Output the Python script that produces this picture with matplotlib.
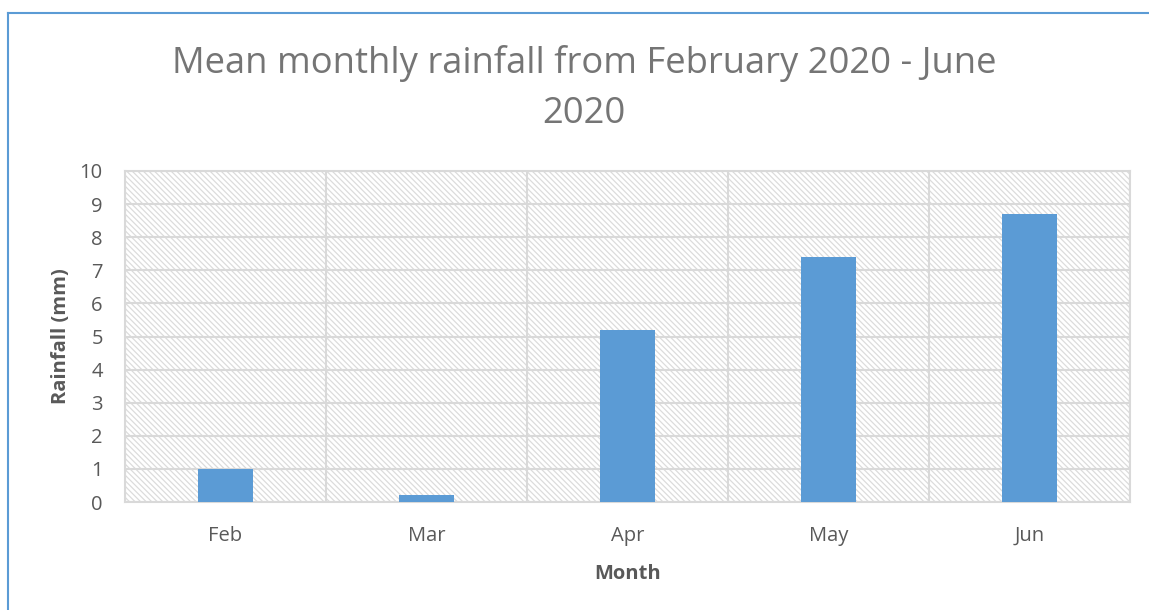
import matplotlib
matplotlib.use("Agg")
import matplotlib.pyplot as plt
from matplotlib.patches import Rectangle
from matplotlib.lines import Line2D

months = ["Feb", "Mar", "Apr", "May", "Jun"]
rainfall = [1.0, 0.2, 5.2, 7.4, 8.7]
yticks = list(range(0, 11))

plt.rcParams['font.family'] = ['Open Sans', 'DejaVu Sans']
plt.rcParams['hatch.linewidth'] = 0.9
plt.rcParams['hatch.color'] = '#dcdcdc'

fig = plt.figure(figsize=(11.49, 6.10), dpi=100)
ax = fig.add_axes([125/1149, 1-502/610, (1130-125)/1149, (502-171)/610])

# hatched background
bg = Rectangle((0, 0), 1, 1, transform=ax.transAxes, facecolor='white',
               edgecolor='#dcdcdc', hatch='\\\\\\\\\\\\', linewidth=0, zorder=0)
ax.add_patch(bg)

x = list(range(len(months)))
ax.bar(x, rainfall, width=0.27, color='#5b9bd5', zorder=3)

ax.set_xlim(-0.5, len(months) - 0.5)
ax.set_ylim(0, 10)
ax.set_yticks(yticks)
ax.set_xticks(x)
ax.set_xticklabels(months)

# gridlines
for v in yticks:
    ax.axhline(v, color='#d9d9d9', lw=1.5, zorder=1)
for b in [i - 0.5 for i in range(len(months) + 1)]:
    ax.axvline(b, color='#d9d9d9', lw=1.5, zorder=1)

for s in ax.spines.values():
    s.set_color('#d9d9d9')
    s.set_linewidth(1.5)

ax.tick_params(axis='both', length=0, labelsize=14.5, colors='#595959')
ax.tick_params(axis='y', pad=16)
ax.tick_params(axis='x', pad=17)

ax.set_ylabel('Rainfall (mm)', fontsize=14.5, fontweight='bold', color='#595959', labelpad=6)
ax.set_xlabel('Month', fontsize=14.5, fontweight='bold', color='#595959', labelpad=13)

fig.text(584/1149, 1-63/610, 'Mean monthly rainfall from February 2020 - June',
         ha='center', va='center', fontsize=26.2, color='#757575')
fig.text(584/1149, 1-114/610, '2020', ha='center', va='center', fontsize=26.2, color='#757575')

# figure border (blue)
fig.add_artist(Line2D([8/1149, 8/1149], [0, 1-13/610], transform=fig.transFigure,
                      color='#5b9bd5', lw=1.5))
fig.add_artist(Line2D([8/1149, 1], [1-13/610, 1-13/610], transform=fig.transFigure,
                      color='#5b9bd5', lw=1.5))

fig.savefig('out.png', dpi=100)
